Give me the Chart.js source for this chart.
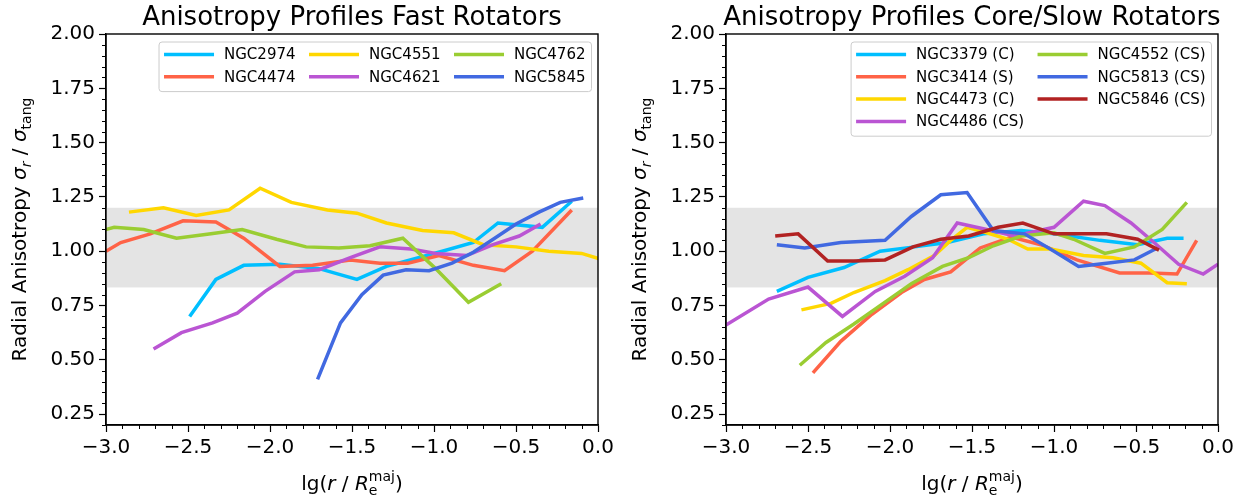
<!DOCTYPE html>
<html>
<head>
<meta charset="utf-8">
<script src="https://cdn.jsdelivr.net/npm/chart.js@4.4.0/dist/chart.umd.min.js"></script>
<style>
  html, body { margin: 0; padding: 0; background: #fff; }
  #wrap { position: relative; width: 1255px; height: 504px; }
  canvas { position: absolute; top: 0; }
</style>
</head>
<body>
<div id="wrap">
  <canvas id="fast" width="620" height="504" style="left:0"></canvas>
  <canvas id="slow" width="635" height="504" style="left:620px"></canvas>
</div>
<script>
// ---- data: lg(r/Re) and sigma_r/sigma_tang ----
// fast rotators
const ngc2974X = [-2.49, -2.33, -2.16, -1.94, -1.70, -1.47, -1.29, -0.95, -0.76, -0.61, -0.34, -0.16];
const ngc2974Y = [0.70, 0.87, 0.935, 0.94, 0.92, 0.87, 0.93, 1.00, 1.04, 1.13, 1.11, 1.23];
const ngc4474X = [-3.0, -2.91, -2.73, -2.53, -2.33, -2.16, -1.94, -1.74, -1.51, -1.33, -1.16, -0.97, -0.76, -0.57, -0.40, -0.16];
const ngc4474Y = [1.00, 1.04, 1.08, 1.14, 1.135, 1.06, 0.93, 0.935, 0.96, 0.945, 0.945, 0.98, 0.935, 0.91, 1.00, 1.19];
const ngc4551X = [-2.86, -2.65, -2.45, -2.25, -2.06, -1.87, -1.65, -1.47, -1.29, -1.07, -0.88, -0.70, -0.50, -0.30, -0.10, 0.01];
const ngc4551Y = [1.18, 1.20, 1.165, 1.19, 1.29, 1.225, 1.19, 1.175, 1.13, 1.095, 1.085, 1.03, 1.02, 1.00, 0.99, 0.965];
const ngc4621X = [-2.71, -2.54, -2.35, -2.20, -2.03, -1.85, -1.70, -1.51, -1.33, -1.14, -0.99, -0.80, -0.64, -0.48, -0.35];
const ngc4621Y = [0.55, 0.625, 0.67, 0.715, 0.815, 0.905, 0.915, 0.97, 1.02, 1.01, 0.99, 0.98, 1.03, 1.07, 1.125];
const ngc4762X = [-3.05, -2.95, -2.77, -2.57, -2.36, -2.17, -1.96, -1.78, -1.58, -1.39, -1.19, -0.99, -0.79, -0.59];
const ngc4762Y = [1.09, 1.11, 1.10, 1.06, 1.08, 1.10, 1.055, 1.02, 1.015, 1.025, 1.06, 0.92, 0.765, 0.85];
const ngc5845X = [-1.71, -1.57, -1.44, -1.31, -1.17, -1.03, -0.89, -0.76, -0.63, -0.50, -0.36, -0.23, -0.09];
const ngc5845Y = [0.41, 0.67, 0.80, 0.89, 0.915, 0.91, 0.945, 0.995, 1.06, 1.125, 1.18, 1.225, 1.245];

// core / slow rotators
const ngc3379X = [-2.69, -2.50, -2.28, -2.06, -1.85, -1.65, -1.43, -1.20, -1.00, -0.72, -0.49, -0.31, -0.21];
const ngc3379Y = [0.815, 0.88, 0.925, 1.00, 1.02, 1.04, 1.08, 1.095, 1.08, 1.05, 1.03, 1.06, 1.06];
const ngc3414X = [-2.47, -2.30, -2.11, -1.93, -1.79, -1.63, -1.45, -1.26, -1.08, -0.86, -0.60, -0.41, -0.25, -0.13];
const ngc3414Y = [0.44, 0.585, 0.71, 0.81, 0.87, 0.905, 1.015, 1.065, 1.03, 0.96, 0.90, 0.90, 0.895, 1.05];
const ngc4473X = [-2.54, -2.36, -2.22, -2.03, -1.89, -1.73, -1.63, -1.53, -1.41, -1.28, -1.16, -1.02, -0.82, -0.64, -0.47, -0.31, -0.19];
const ngc4473Y = [0.73, 0.76, 0.81, 0.865, 0.915, 0.98, 1.05, 1.11, 1.085, 1.055, 1.01, 1.01, 0.98, 0.97, 0.945, 0.855, 0.85];
const ngc4486X = [-3.0, -2.74, -2.50, -2.29, -2.09, -1.91, -1.74, -1.59, -1.41, -1.24, -1.00, -0.82, -0.69, -0.53, -0.39, -0.24, -0.09, 0.0];
const ngc4486Y = [0.66, 0.78, 0.835, 0.70, 0.815, 0.885, 0.97, 1.13, 1.10, 1.07, 1.11, 1.23, 1.21, 1.13, 1.04, 0.94, 0.895, 0.94];
const ngc4552X = [-2.55, -2.39, -2.22, -2.05, -1.87, -1.68, -1.52, -1.37, -1.20, -1.00, -0.88, -0.69, -0.51, -0.34, -0.19];
const ngc4552Y = [0.475, 0.58, 0.665, 0.755, 0.85, 0.93, 0.97, 1.025, 1.07, 1.085, 1.055, 0.99, 1.02, 1.10, 1.225];
const ngc5813X = [-2.69, -2.52, -2.30, -2.03, -1.87, -1.69, -1.53, -1.37, -1.18, -1.00, -0.85, -0.68, -0.51, -0.37];
const ngc5813Y = [1.03, 1.015, 1.04, 1.05, 1.16, 1.26, 1.27, 1.095, 1.08, 1.00, 0.93, 0.945, 0.96, 1.015];
const ngc5846X = [-2.70, -2.56, -2.38, -2.22, -2.03, -1.86, -1.69, -1.52, -1.34, -1.19, -1.00, -0.84, -0.68, -0.49, -0.36];
const ngc5846Y = [1.07, 1.08, 0.955, 0.955, 0.96, 1.02, 1.055, 1.07, 1.11, 1.13, 1.08, 1.08, 1.08, 1.055, 1.005];

const fastNames = ['NGC2974', 'NGC4474', 'NGC4551', 'NGC4621', 'NGC4762', 'NGC5845'];
const slowNames = ['NGC3379 (C)', 'NGC3414 (S)', 'NGC4473 (C)', 'NGC4486 (CS)', 'NGC4552 (CS)', 'NGC5813 (CS)', 'NGC5846 (CS)'];
const xTicks = [-3.0, -2.5, -2.0, -1.5, -1.0, -0.5, 0.0];
const yTicks = [0.25, 0.50, 0.75, 1.00, 1.25, 1.50, 1.75, 2.00];
const isoBand = [1 / 1.2, 1.2];

const FONT = "'DejaVu Sans', sans-serif";
const colors = {
  deepskyblue: '#00BFFF', tomato: '#FF6347', gold: '#FFD700', orchid: '#BA55D3',
  yellowgreen: '#9ACD32', royalblue: '#4169E1', firebrick: '#B22222'
};

function pts(xs, ys) { return xs.map((x, i) => ({ x: x, y: ys[i] })); }

function lineSet(label, xs, ys, color, i) {
  return {
    label: label, data: pts(xs, ys), borderColor: color, backgroundColor: color,
    borderWidth: 3.5, pointRadius: 0, tension: 0, fill: false, order: -i
  };
}

// draw a run of text pieces: [text, size, italic, dy]; pieces with sup/sub are stacked
function pieceWidth(ctx, p) {
  ctx.font = (p[2] ? 'italic ' : '') + p[1] + 'px ' + FONT;
  return ctx.measureText(p[0]).width;
}
function drawRich(ctx, parts, cx, cy) {
  let w = 0;
  parts.forEach(p => {
    if (p.stack) w += Math.max(...p.stack.map(q => pieceWidth(ctx, q)));
    else w += pieceWidth(ctx, p);
  });
  let x = cx - w / 2;
  ctx.textBaseline = 'alphabetic';
  ctx.textAlign = 'left';
  parts.forEach(p => {
    const list = p.stack ? p.stack : [p];
    let adv = 0;
    list.forEach(q => {
      ctx.font = (q[2] ? 'italic ' : '') + q[1] + 'px ' + FONT;
      ctx.fillText(q[0], x, cy + q[3]);
      adv = Math.max(adv, ctx.measureText(q[0]).width);
    });
    x += adv;
  });
}

const decor = {
  id: 'decor',
  beforeDatasetsDraw(chart, args, o) {
    const { ctx, chartArea: a, scales: { y } } = chart;
    const t = y.getPixelForValue(isoBand[1]), b = y.getPixelForValue(isoBand[0]);
    ctx.save();
    ctx.fillStyle = '#e4e4e4';
    ctx.fillRect(a.left, t, a.right - a.left, b - t);
    ctx.restore();
  },
  afterDatasetsDraw(chart, args, o) {
    const { ctx, chartArea: a, scales: { x, y } } = chart;
    ctx.save();
    // minor ticks
    ctx.strokeStyle = '#000';
    ctx.lineWidth = 1;
    ctx.beginPath();
    for (let i = 0; i <= 30; i++) {
      if (i % 5 === 0) continue;
      const px = Math.round(x.getPixelForValue(-3 + i * 0.1)) + 0.5;
      ctx.moveTo(px, a.bottom); ctx.lineTo(px, a.bottom + 4);
    }
    for (let i = 4; i <= 40; i++) {
      if (i % 5 === 0) continue;
      const py = Math.round(y.getPixelForValue(i * 0.05)) + 0.5;
      ctx.moveTo(a.left, py); ctx.lineTo(a.left - 4, py);
    }
    ctx.stroke();
    // frame
    ctx.lineWidth = 1.4;
    ctx.strokeRect(a.left, a.top, a.right - a.left, a.bottom - a.top);

    // legend (column-major like matplotlib)
    const ds = chart.data.datasets;
    const ncol = o.ncol, nrow = Math.ceil(ds.length / ncol);
    ctx.font = '15px ' + FONT;
    const colW = [];
    for (let c = 0; c < ncol; c++) {
      let m = 0;
      for (let r = 0; r < nrow; r++) {
        const d = ds[c * nrow + r];
        if (d) m = Math.max(m, ctx.measureText(d.label).width);
      }
      colW.push(50 + 10 + m);
    }
    const boxW = 5 + colW.reduce((s, v) => s + v, 0) + 13.5 * (ncol - 1) + 6;
    const boxH = nrow * 22.3 + 5;
    const bx = a.right - 6.5 - boxW, by = a.top + 8;
    ctx.fillStyle = 'rgba(255,255,255,0.85)';
    ctx.strokeStyle = '#cccccc';
    ctx.lineWidth = 1;
    ctx.beginPath();
    ctx.roundRect(bx, by, boxW, boxH, 3);
    ctx.fill(); ctx.stroke();
    let cxp = bx + 5;
    for (let c = 0; c < ncol; c++) {
      for (let r = 0; r < nrow; r++) {
        const d = ds[c * nrow + r];
        if (!d) continue;
        const ry = by + 12.5 + r * 22.3;
        ctx.strokeStyle = d.borderColor;
        ctx.lineWidth = 3.5;
        ctx.beginPath(); ctx.moveTo(cxp, ry); ctx.lineTo(cxp + 50, ry); ctx.stroke();
        ctx.fillStyle = '#000';
        ctx.textAlign = 'left'; ctx.textBaseline = 'middle';
        ctx.fillText(d.label, cxp + 60, ry + 1);
      }
      cxp += colW[c] + 13.5;
    }

    // title and axis labels
    ctx.fillStyle = '#000';
    ctx.font = '26px ' + FONT;
    ctx.textAlign = 'center'; ctx.textBaseline = 'alphabetic';
    ctx.fillText(o.title, (a.left + a.right) / 2, 25);

    drawRich(ctx, [
      ['lg(', 20, false, 0], ['r', 20, true, 0], [' / ', 20, false, 0], ['R', 20, true, 0],
      { stack: [['e', 14, false, 5], ['maj', 14, false, -9]] }, [')', 20, false, 0]
    ], (a.left + a.right) / 2, 490);

    ctx.save();
    ctx.translate(26, (a.top + a.bottom) / 2);
    ctx.rotate(-Math.PI / 2);
    drawRich(ctx, [
      ['Radial Anisotropy ', 20, false, 0], ['σ', 20, true, 0], ['r', 14, true, 5],
      [' / ', 20, false, 0], ['σ', 20, true, 0], ['tang', 14, false, 5]
    ], 0, 0);
    ctx.restore();
    ctx.restore();
  }
};

function makeChart(id, datasets, title, ncol, padRight) {
  return new Chart(document.getElementById(id), {
    type: 'line',
    data: { datasets: datasets },
    plugins: [decor],
    options: {
      responsive: false,
      animation: false,
      layout: { padding: { top: 34, right: padRight, left: 0, bottom: 0 } },
      plugins: {
        legend: { display: false },
        tooltip: { enabled: false },
        decor: { title: title, ncol: ncol }
      },
      scales: {
        x: {
          type: 'linear', min: -3, max: 0,
          afterBuildTicks: s => { s.ticks = xTicks.map(v => ({ value: v })); },
          afterFit: s => { s.height = 79; },
          grid: { drawOnChartArea: false, tickLength: 7, tickColor: '#000', tickWidth: 1.2 },
          border: { color: '#000', width: 1.4 },
          ticks: {
            color: '#000', padding: 4, maxRotation: 0, autoSkip: false,
            font: { family: FONT, size: 20 },
            callback: v => (v < 0 ? '\u2212' : '') + Math.abs(v).toFixed(1)
          }
        },
        y: {
          type: 'linear', min: 0.2, max: 2.0,
          afterBuildTicks: s => { s.ticks = yTicks.map(v => ({ value: v })); },
          afterFit: s => { s.width = 106; },
          grid: { drawOnChartArea: false, tickLength: 7, tickColor: '#000', tickWidth: 1.2 },
          border: { color: '#000', width: 1.4 },
          ticks: {
            color: '#000', padding: 4, autoSkip: false,
            font: { family: FONT, size: 20 },
            callback: v => v.toFixed(2)
          }
        }
      }
    }
  });
}

const fastColors = [colors.deepskyblue, colors.tomato, colors.gold, colors.orchid, colors.yellowgreen, colors.royalblue];
const fastX = [ngc2974X, ngc4474X, ngc4551X, ngc4621X, ngc4762X, ngc5845X];
const fastY = [ngc2974Y, ngc4474Y, ngc4551Y, ngc4621Y, ngc4762Y, ngc5845Y];
const slowColors = [colors.deepskyblue, colors.tomato, colors.gold, colors.orchid, colors.yellowgreen, colors.royalblue, colors.firebrick];
const slowX = [ngc3379X, ngc3414X, ngc4473X, ngc4486X, ngc4552X, ngc5813X, ngc5846X];
const slowY = [ngc3379Y, ngc3414Y, ngc4473Y, ngc4486Y, ngc4552Y, ngc5813Y, ngc5846Y];

makeChart('fast', fastNames.map((n, i) => lineSet(n, fastX[i], fastY[i], fastColors[i], i)),
  'Anisotropy Profiles Fast Rotators', 3, 22);
makeChart('slow', slowNames.map((n, i) => lineSet(n, slowX[i], slowY[i], slowColors[i], i)),
  'Anisotropy Profiles Core/Slow Rotators', 2, 37);
</script>
</body>
</html>
